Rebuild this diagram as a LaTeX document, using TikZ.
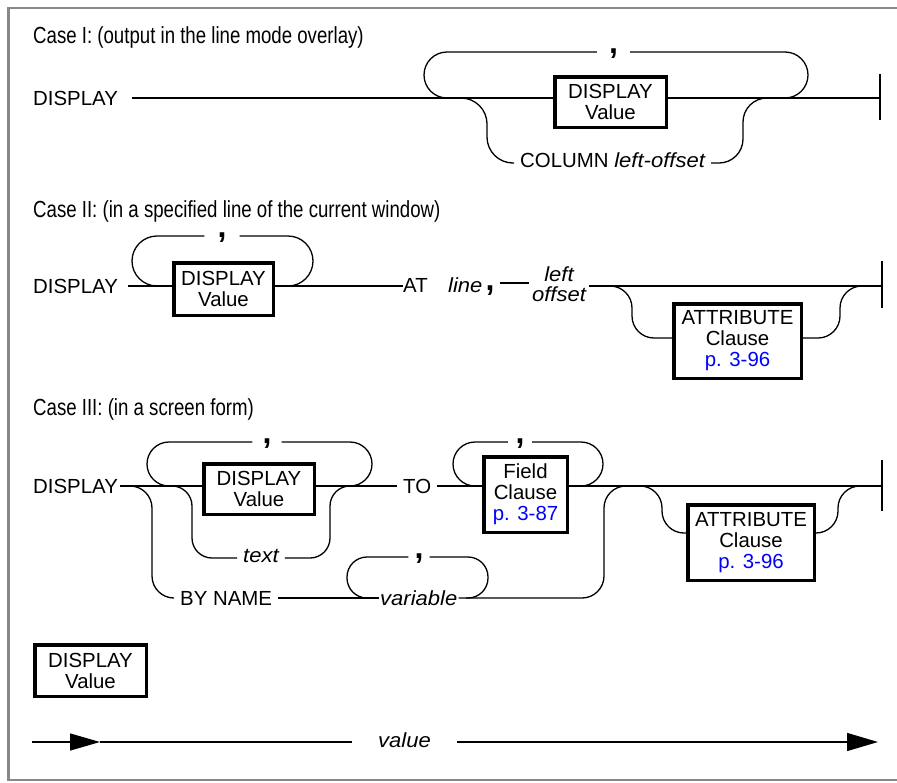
\documentclass[tikz,border=0pt]{standalone}
\usepackage{fontspec}
\setmainfont{Liberation Sans}
\newfontfamily\condf{Liberation Sans}[FakeStretch=0.8]
\newfontfamily\itf{Liberation Sans}[FakeStretch=1.08]
\usetikzlibrary{arrows.meta}
\definecolor{framegray}{RGB}{136,136,136}
\definecolor{refblue}{RGB}{0,0,255}
\newcommand\kwfont{\fontsize{20.4}{21}\selectfont}
\newcommand\itx[1]{{\itf\itshape #1}}
\begin{document}
\begin{tikzpicture}[x=1pt,y=-1pt,
  rail/.style={line width=1.3pt},
  bar/.style={line width=1.6pt},
  frame/.style={line width=2.5pt,draw=framegray},
  nt/.style={draw,line width=3.5pt,align=center,inner sep=0pt,font=\kwfont},
  kw/.style={anchor=base west,inner ysep=0pt,inner xsep=0pt,font=\kwfont},
  itkw/.style={anchor=base west,inner ysep=0pt,inner xsep=0pt,font=\itf\itshape\kwfont},
  lab/.style={anchor=base west,inner sep=0pt,font=\condf\fontsize{23.3}{25}\selectfont},
  commanode/.style={anchor=base,inner ysep=0pt,font=\bfseries\fontsize{32}{32}\selectfont}]
\useasboundingbox (0,0) rectangle (897,782);
% frame
\draw[frame] (897,8) -- (8.5,8) -- (8.5,780) -- (897,780);

% ================= Case I
\coordinate (m1) at (0,98);
\coordinate (c1t) at (0,52);
\coordinate (c1b) at (0,163);
\node[lab] (c1lab) at (33,43) {Case I: (output in the line mode overlay)};
\node[kw,inner xsep=14pt] (c1kw) at (19,105) {DISPLAY};
\node[nt,minimum width=111.5pt,minimum height=50.5pt] (c1box) at (610.5,102) {DISPLAY\\Value};
\coordinate (c1end) at (880,98);
\coordinate (c1endt) at (880,74);
\coordinate (c1endb) at (880,120);
\draw[rail] (c1kw.east |- m1) -- (c1box.west |- m1);
\draw[rail] (c1box.east |- m1) -- (c1end);
\draw[bar] (c1endt) -- (c1endb);
% repetition loop
\coordinate (c1la) at (450,98);
\coordinate (c1lx) at (424,0);
\coordinate (c1ra) at (783,98);
\coordinate (c1rx) at (808,0);
\node[commanode,inner xsep=12pt] (c1cm) at (613.5,53) {,};
\draw[rail,rounded corners=23pt] (c1la) -- (c1lx |- m1) |- (c1cm.west |- c1t);
\draw[rail,rounded corners=23pt] (c1cm.east |- c1t) -| (c1rx |- m1) -- (c1ra);
% lower branch
\node[kw,inner xsep=6pt] (c1col) at (514,167) {COLUMN \itx{left-offset}};
\coordinate (c1lv) at (487,0);
\coordinate (c1rv) at (743,0);
\draw[rail,rounded corners=26pt] (c1la) -| (c1lv |- c1b) -- (c1col.west |- c1b);
\draw[rail,rounded corners=24pt] (c1col.east |- c1b) -| (c1rv |- m1) -- (c1ra);

% ================= Case II
\coordinate (m2) at (0,286);
\coordinate (c2t) at (0,236);
\coordinate (c2s) at (0,283);
\coordinate (c2b) at (0,338);
\node[lab] (c2lab) at (33,217) {Case II: (in a specified line of the current window)};
\node[kw,inner xsep=10pt] (c2kw) at (23,293) {DISPLAY};
\node[nt,minimum width=99.5pt,minimum height=52.5pt] (c2box) at (223.5,289) {DISPLAY\\Value};
\draw[rail] (c2kw.east |- m2) -- (c2box.west |- m2);
% loop
\coordinate (c2la) at (157,286);
\coordinate (c2lx) at (132,0);
\coordinate (c2ra) at (288,286);
\coordinate (c2rx) at (313,0);
\node[commanode,inner xsep=13pt] (c2cm) at (222,237) {,};
\draw[rail,rounded corners=25pt] (c2la) -- (c2lx |- m2) |- (c2cm.west |- c2t);
\draw[rail,rounded corners=25pt] (c2cm.east |- c2t) -| (c2rx |- m2) -- (c2ra);
% AT line , left offset
\node[kw] (c2at) at (403,292) {AT};
\draw[rail] (c2box.east |- m2) -- (c2at.west |- m2);
\node[itkw] (c2line) at (448,292) {line};
\node[commanode,inner xsep=5pt] (c2cm2) at (490,290) {,};
\node[align=center,inner ysep=0pt,inner xsep=3pt,font=\itf\itshape\fontsize{20.4}{20}\selectfont] (c2lo) at (559,284.5) {left\\offset};
\draw[rail] (c2cm2.east |- c2s) -- (c2lo.west |- c2s);
\coordinate (c2end) at (882,286);
\coordinate (c2endt) at (882,261);
\coordinate (c2endb) at (882,308);
\draw[rail] (c2lo.east |- m2) -- (c2end);
\draw[bar] (c2endt) -- (c2endb);
% optional attribute
\node[nt,minimum width=127.5pt,minimum height=74.5pt] (c2attr) at (737.5,341) {ATTRIBUTE\\Clause\\\textcolor{refblue}{p. 3-96}};
\coordinate (c2oa) at (608,286);
\coordinate (c2ov) at (632,0);
\coordinate (c2ov2) at (840,0);
\coordinate (c2ob) at (864,286);
\draw[rail,rounded corners=22pt] (c2oa) -| (c2ov |- c2b) -- (c2attr.west |- c2b);
\draw[rail,rounded corners=22pt] (c2attr.east |- c2b) -| (c2ov2 |- m2) -- (c2ob);

% ================= Case III
\coordinate (m3) at (0,486);
\coordinate (c3lt) at (0,442);
\coordinate (c3tt) at (0,558);
\coordinate (c3n) at (0,598);
\coordinate (c3vt) at (0,557);
\coordinate (c3ab) at (0,533);
\node[lab] (c3lab) at (33,415) {Case III: (in a screen form)};
\node[kw,inner xsep=2pt] (c3kw) at (31,493) {DISPLAY};
\node[nt,minimum width=110.5pt,minimum height=50.5pt] (c3box) at (259,489) {DISPLAY\\Value};
\draw[rail] (c3kw.east |- m3) -- (c3box.west |- m3);
% loop around DISPLAY Value
\coordinate (c3la) at (173,486);
\coordinate (c3lx) at (147,0);
\coordinate (c3ra) at (350,486);
\coordinate (c3rx) at (372,0);
\node[commanode,inner xsep=10pt] (c3cm1) at (267,443) {,};
\draw[rail,rounded corners=22pt] (c3la) -- (c3lx |- m3) |- (c3cm1.west |- c3lt);
\draw[rail,rounded corners=22pt] (c3cm1.east |- c3lt) -| (c3rx |- m3) -- (c3ra);
% text branch
\node[itkw,inner xsep=6pt] (c3text) at (237,562) {text};
\coordinate (c3ta) at (170,486);
\coordinate (c3tv) at (192,0);
\coordinate (c3tv2) at (330,0);
\coordinate (c3tb) at (352,486);
\draw[rail,rounded corners=20pt] (c3ta) -| (c3tv |- c3tt) -- (c3text.west |- c3tt);
\draw[rail,rounded corners=20pt] (c3text.east |- c3tt) -| (c3tv2 |- m3) -- (c3tb);
% BY NAME branch
\node[kw,inner xsep=6pt] (c3by) at (174,605) {BY NAME};
\coordinate (c3bv) at (152,0);
\draw[rail,rounded corners=22pt] (c3kw.east |- m3) -| (c3bv |- c3n) -- (c3by.west |- c3n);
\node[itkw,inner xsep=1pt] (c3var) at (379,605) {variable};
\draw[rail] (c3by.east |- c3n) -- (c3var.west |- c3n);
\coordinate (c3vla) at (370,598);
\coordinate (c3vlx) at (347,0);
\coordinate (c3vra) at (466,598);
\coordinate (c3vrx) at (488,0);
\node[commanode,inner xsep=6pt] (c3cm2) at (419,558) {,};
\draw[rail,rounded corners=20pt] (c3vla) -- (c3vlx |- c3n) |- (c3cm2.west |- c3vt);
\draw[rail,rounded corners=20pt] (c3cm2.east |- c3vt) -| (c3vrx |- c3n) -- (c3vra);
\coordinate (c3jv) at (604,0);
\coordinate (c3ja) at (628,486);
\draw[rail,rounded corners=22pt] (c3var.east |- c3n) -| (c3jv |- m3) -- (c3ja);
% TO Field Clause
\node[kw,inner xsep=6pt] (c3to) at (397,493) {TO};
\draw[rail] (c3box.east |- m3) -- (c3to.west |- m3);
\node[nt,minimum width=83.5pt,minimum height=75.5pt] (c3field) at (525.5,494.5) {Field\\Clause\\\textcolor{refblue}{p. 3-87}};
\draw[rail] (c3to.east |- m3) -- (c3field.west |- m3);
\coordinate (c3fa) at (478,486);
\coordinate (c3fx) at (453,0);
\coordinate (c3fb) at (578,486);
\coordinate (c3fx2) at (603,0);
\node[commanode,inner xsep=7.5pt] (c3cm3) at (520,443) {,};
\draw[rail,rounded corners=22pt] (c3fa) -- (c3fx |- m3) |- (c3cm3.west |- c3lt);
\draw[rail,rounded corners=22pt] (c3cm3.east |- c3lt) -| (c3fx2 |- m3) -- (c3fb);
\coordinate (c3end) at (882,486);
\coordinate (c3endt) at (882,460);
\coordinate (c3endb) at (882,511);
\draw[rail] (c3field.east |- m3) -- (c3end);
\draw[bar] (c3endt) -- (c3endb);
% optional attribute
\node[nt,minimum width=126.5pt,minimum height=75.5pt] (c3attr) at (751,542.5) {ATTRIBUTE\\Clause\\\textcolor{refblue}{p. 3-96}};
\coordinate (c3oa) at (640,486);
\coordinate (c3ov) at (662,0);
\coordinate (c3ov2) at (838,0);
\coordinate (c3ob) at (860,486);
\draw[rail,rounded corners=22pt] (c3oa) -| (c3ov |- c3ab) -- (c3attr.west |- c3ab);
\draw[rail,rounded corners=22pt] (c3attr.east |- c3ab) -| (c3ov2 |- m3) -- (c3ob);

% ================= DISPLAY Value definition
\node[nt,minimum width=111.5pt,minimum height=51.5pt] (c4box) at (90.5,670.5) {DISPLAY\\Value};
\coordinate (vs) at (32,742);
\coordinate (va) at (100,742);
\coordinate (ve) at (878,742);
\node[itkw,inner xsep=26pt] (c4val) at (352,747) {value};
\draw[rail,-{Triangle[length=30pt,width=17pt]}] (vs) -- (va);
\draw[rail] (va) -- (c4val.west |- vs);
\draw[rail,-{Triangle[length=31pt,width=18pt]}] (c4val.east |- vs) -- (ve);
\end{tikzpicture}
\end{document}
